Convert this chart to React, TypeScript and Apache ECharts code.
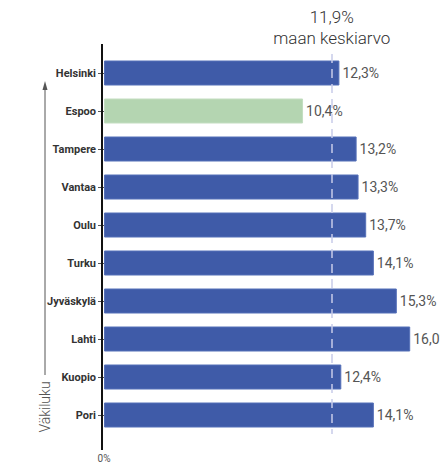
import React, { useEffect, useRef } from "react";
import * as echarts from "echarts";

const cities = ["Helsinki", "Espoo", "Tampere", "Vantaa", "Oulu", "Turku", "Jyväskylä", "Lahti", "Kuopio", "Pori"];
const values = [12.3, 10.4, 13.2, 13.3, 13.7, 14.1, 15.3, 16.0, 12.4, 14.1];
const highlighted = "Espoo";
const average = 11.9;
const averageLabel = "maan keskiarvo";
const axisTitle = "Väkiluku";

const BLUE = "#3f5ba8";
const GREEN = "#b4d5b1";
const FONT = "Roboto, 'Noto Sans', sans-serif";

const fmt = (v: number) => v.toFixed(1).replace(".", ",") + "%";

export default function App() {
  const ref = useRef<HTMLDivElement>(null);
  useEffect(() => {
    document.body.style.margin = "0";
    const chart = echarts.init(ref.current!, undefined, { renderer: "svg" });
    chart.setOption({
      animation: false,
      grid: { left: 104, top: 54, height: 380, right: 0 },
      xAxis: {
        type: "value",
        min: 0,
        max: 17.4,
        interval: 100,
        splitLine: { show: false },
        axisLine: { show: false },
        axisTick: { show: false },
        axisLabel: {
          margin: 19,
          fontFamily: FONT,
          fontSize: 10,
          color: "#555",
          formatter: (v: number) => (v === 0 ? "0%" : ""),
        },
      },
      yAxis: {
        type: "category",
        data: cities,
        inverse: true,
        axisLine: { show: false },
        axisTick: { show: true, length: 6, alignWithLabel: true, lineStyle: { color: "#555" } },
        axisLabel: {
          margin: 8,
          fontFamily: FONT,
          fontWeight: "bold",
          fontSize: 11,
          color: "#333",
        },
      },
      series: [
        {
          type: "bar",
          barWidth: 25,
          data: values.map((v, i) => ({
            value: v,
            itemStyle: {
              color: cities[i] === highlighted ? GREEN : BLUE,
              borderColor: cities[i] === highlighted ? "#c3ddc0" : "#5570b8",
              borderWidth: 1,
            },
          })),
          label: {
            show: true,
            position: "right",
            distance: 3,
            fontFamily: FONT,
            fontSize: 14,
            color: "#555",
            formatter: (p: any) => fmt(p.value),
          },
          markLine: {
            symbol: "none",
            silent: true,
            lineStyle: { color: "#c8cbe9", type: [9, 6], width: 1.5 },
            label: {
              show: true,
              position: "start",
              distance: 6,
              fontFamily: FONT,
              fontWeight: 300,
              fontSize: 17,
              lineHeight: 21,
              color: "#333",
              formatter: () => fmt(average) + "\n" + averageLabel,
            },
            data: [{ xAxis: average }],
          },
          z: 3,
        },
      ],
      graphic: [
        {
          type: "line",
          shape: { x1: 102, y1: 44, x2: 102, y2: 450 },
          style: { stroke: "#111", lineWidth: 2 },
          z: 10,
        },
        {
          type: "line",
          shape: { x1: 45, y1: 86, x2: 45, y2: 375 },
          style: { stroke: "#555", lineWidth: 1 },
        },
        {
          type: "polygon",
          shape: { points: [[45, 81], [42.5, 90], [47.5, 90]] },
          style: { fill: "#555" },
        },
        {
          type: "text",
          x: 45,
          y: 407,
          rotation: Math.PI / 2,
          style: {
            text: axisTitle,
            fontFamily: FONT,
            fontWeight: 300,
            fontSize: 14,
            fill: "#555",
            align: "center",
            verticalAlign: "middle",
          },
        },
      ],
    });
    return () => chart.dispose();
  }, []);
  return <div ref={ref} style={{ width: 440, height: 466 }} />;
}
